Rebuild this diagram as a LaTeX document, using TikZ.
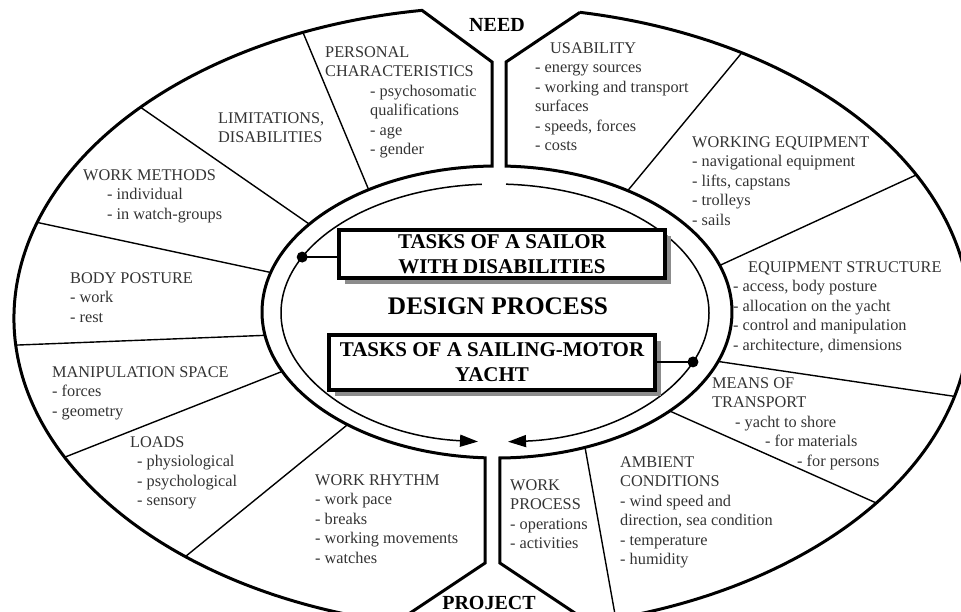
\documentclass[tikz,border=0pt]{standalone}
\usepackage{fontspec}
\setmainfont{Liberation Serif}
\usetikzlibrary{calc,arrows.meta,shadows}
\newcommand\tblock[4]{\node[txt] (#1) at (#2,#3-13.65) {\strut#4};}
\begin{document}
\begin{tikzpicture}[x=1pt,y=-1pt,
  txt/.style={font=\fontsize{16.3}{19.5}\selectfont, text=black!80, align=left, inner sep=0pt, anchor=north west},
  heavy/.style={line width=3pt, line join=miter},
  sectorline/.style={line width=1.4pt},
  thinring/.style={line width=1.5pt},
  taskbox/.style={draw, line width=4pt, fill=white, align=center, inner sep=0pt,
     font=\bfseries\fontsize{21}{25}\selectfont,
     drop shadow={shadow xshift=6pt, shadow yshift=-6pt, fill=black!45, opacity=1}},
  bigdot/.style={circle, fill=black, inner sep=0pt, minimum size=11pt},
  tip/.style={-{Triangle[length=18pt,width=12pt]}}
]
\useasboundingbox (0,0) rectangle (961,612);
\clip (0,0) rectangle (961,612);
\coordinate (OC) at (492,318);
\coordinate (RC) at (497,312);
\coordinate (IC) at (495,313);
% outline points
\coordinate (oTL) at ($(OC)+(261.58:478 and 311)$);
\coordinate (oTR) at ($(OC)+(-79.39:478 and 311)$);
\coordinate (tTL) at ($(RC)+(268.8:235 and 146)$);
\coordinate (tTR) at ($(RC)+(-87.8:235 and 146)$);
\coordinate (tBL) at ($(RC)+(92.9:235 and 146)$);
\coordinate (tBR) at ($(RC)+(89.3:235 and 146)$);
\coordinate (nL) at (tTL |- 0,62);
\coordinate (nR) at (tTR |- 0,62);
\coordinate (bL) at (tBL |- 0,563);
\coordinate (bR) at (tBR |- 0,563);
\coordinate (bLd) at ($(bL)+(-93,62)$);
\coordinate (bRd) at ($(bR)+(93,62)$);
% outer halves
\draw[heavy] (oTR) arc[start angle=-79.39, end angle=261.58, x radius=478, y radius=311]
   -- (nL) -- (tTL) arc[start angle=268.8, end angle=92.9, x radius=235, y radius=146]
   -- (bL) -- (bLd);
\draw[heavy] (oTR) -- (nR) -- (tTR) arc[start angle=-87.8, end angle=89.3, x radius=235, y radius=146]
   -- (bR) -- (bRd);
% sector lines
\foreach \angr/\ango in {236.9/246.7, 217.0/222.66, 195.7/197.9, 170.8/175.0, 156.0/153.4, 129.5/129.9,
  -56.2/-58.5, -18.6/-27.4, 19.8/14.6, 42.7/36.5, 68.0/75.0}
  \draw[sectorline] ($(RC)+(\angr:235 and 146)$) -- ($(OC)+(\ango:478 and 311)$);
% inner thin ring with arrows
\draw[thinring, tip] ($(IC)+(266.5:214 and 129)$) arc[start angle=266.5, end angle=94.56, x radius=214, y radius=129];
\draw[thinring, tip] ($(IC)+(-87.05:214 and 129)$) arc[start angle=-87.05, end angle=86.5, x radius=214, y radius=129];
\node[bigdot] (dL) at ($(IC)+(205.7:214 and 129)$) {};
\node[bigdot] (dR) at ($(IC)+(22.3:214 and 129)$) {};
% boxes
\node[taskbox, minimum width=326pt, minimum height=48pt] (box1) at (502,254) {TASKS OF A SAILOR\\WITH DISABILITIES};
\node[taskbox, minimum width=326pt, minimum height=55pt] (box2) at (492,362.5) {TASKS OF A SAILING-MOTOR\\YACHT};
\draw[sectorline] (dL.center) -- (dL.center -| box1.west);
\draw[sectorline] (box2.east |- dR.center) -- (dR.center);
\node[anchor=base, inner sep=0pt, font=\bfseries\fontsize{25.3}{30}\selectfont] (dp) at (498,315) {DESIGN PROCESS};
\node[anchor=base, inner sep=0pt, font=\bfseries\fontsize{20}{24}\selectfont] (need) at (497,32) {NEED};
\node[anchor=base, inner sep=0pt, font=\bfseries\fontsize{20}{24}\selectfont] (proj) at (489,609) {PROJECT};
% texts
\tblock{pers}{325}{57}{PERSONAL\\CHARACTERISTICS\\\hspace*{45pt}- psychosomatic\\\hspace*{45pt}qualifications\\\hspace*{45pt}- age\\\hspace*{45pt}- gender}
\tblock{limit}{218}{123}{LIMITATIONS,\\DISABILITIES}
\tblock{wmeth}{83}{180}{WORK METHODS\\\hspace*{24pt}- individual\\\hspace*{24pt}- in watch-groups}
\tblock{body}{70}{283}{BODY POSTURE\\- work\\- rest}
\tblock{manip}{52}{377}{MANIPULATION SPACE\\- forces\\- geometry}
\tblock{loads}{130}{447}{LOADS\\\hspace*{7pt}- physiological\\\hspace*{7pt}- psychological\\\hspace*{7pt}- sensory}
\tblock{rhythm}{315}{485}{WORK RHYTHM\\- work pace\\- breaks\\- working movements\\- watches}
\tblock{usab}{535}{53}{\hspace*{15pt}USABILITY\\- energy sources\\- working and transport\\surfaces\\- speeds, forces\\- costs}
\tblock{wequip}{692}{147}{WORKING EQUIPMENT\\- navigational equipment\\- lifts, capstans\\- trolleys\\- sails}
\tblock{estruct}{733}{272}{\hspace*{15pt}EQUIPMENT STRUCTURE\\- access, body posture\\- allocation on the yacht\\- control and manipulation\\- architecture, dimensions}
\tblock{means}{712}{388}{MEANS OF\\TRANSPORT\\\hspace*{23pt}- yacht to shore\\\hspace*{53pt}- for materials\\\hspace*{85pt}- for persons}
\tblock{ambient}{620}{467}{AMBIENT\\CONDITIONS\\- wind speed and\\direction, sea condition\\- temperature\\- humidity}
\tblock{wproc}{510}{490}{WORK\\PROCESS\\- operations\\- activities}
\end{tikzpicture}
\end{document}
